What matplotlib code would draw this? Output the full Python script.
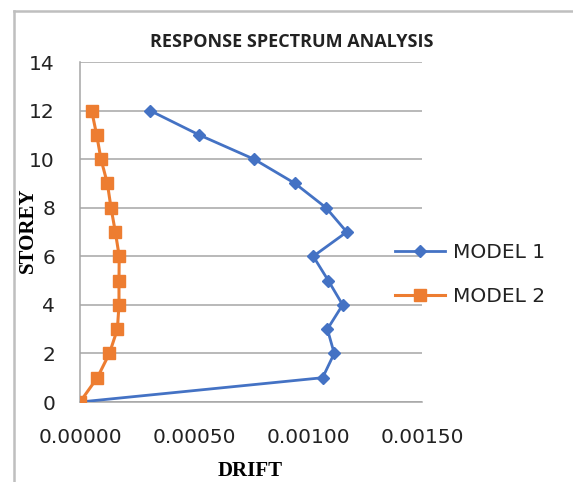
import matplotlib.pyplot as plt
from matplotlib.lines import Line2D

# storey drift from response spectrum analysis
storeys = [0, 1, 2, 3, 4, 5, 6, 7, 8, 9, 10, 11, 12]
drift_model1 = [0.0, 0.001064, 0.001115, 0.001085, 0.001152, 0.001089, 0.001023,
                0.00117, 0.001079, 0.000943, 0.000763, 0.000522, 0.000307]
drift_model2 = [0.0, 0.000076, 0.000129, 0.000164, 0.000171, 0.000171, 0.000172,
                0.000155, 0.000136, 0.00012, 0.000092, 0.000073, 0.000051]
x_ticks = [0.0, 0.0005, 0.0010, 0.0015]
y_ticks = [0, 2, 4, 6, 8, 10, 12, 14]

BLUE = "#4472C4"
ORANGE = "#ED7D31"
GRID = "#A6A6A6"

fig = plt.figure(figsize=(5.73, 4.82), dpi=100)
ax = fig.add_axes([80 / 573, 1 - 402 / 482, 342 / 573, 340 / 482])

ax.plot(drift_model1, storeys, color=BLUE, lw=2.0, marker="D", ms=6.5,
        label="MODEL 1", zorder=3)
ax.plot(drift_model2, storeys, color=ORANGE, lw=2.2, marker="s", ms=9,
        label="MODEL 2", zorder=3)

ax.set_xlim(0, 0.0015)
ax.set_ylim(0, 14)
ax.set_xticks(x_ticks)
ax.set_yticks(y_ticks)
ax.set_xticklabels([f"{v:.5f}" for v in x_ticks])
ax.yaxis.grid(True, color=GRID, lw=1.1)
ax.set_axisbelow(True)
for side in ["top", "right"]:
    ax.spines[side].set_visible(False)
ax.spines["left"].set_color(GRID)
ax.spines["bottom"].set_color(GRID)
ax.spines["left"].set_linewidth(1.1)
ax.spines["bottom"].set_linewidth(1.1)
ax.tick_params(length=0, labelsize=14.5, labelcolor="#222222")
ax.tick_params(axis="y", pad=18)
ax.tick_params(axis="x", pad=19)

fig.text(0.51, 0.913, "RESPONSE SPECTRUM ANALYSIS", ha="center", va="center",
         fontsize=13, family="Open Sans", fontweight="bold", color="#222222")
fig.text(250 / 573, 1 - 471 / 482, "DRIFT", ha="center", va="center",
         fontsize=15, family="Liberation Serif", fontweight="bold")
fig.text(28 / 573, 1 - 230 / 482, "STOREY", ha="center", va="center", rotation=90,
         fontsize=15, family="Liberation Serif", fontweight="bold")

fig.legend(loc="upper left", bbox_to_anchor=(395 / 573, 1 - 243 / 482),
           frameon=False, fontsize=14.5, handlelength=2.5, handletextpad=0.4,
           labelspacing=1.25, borderpad=0, borderaxespad=0, labelcolor="#222222")

# chart frame
fig.add_artist(Line2D([13.5 / 573, 13.5 / 573], [0, 1 - 11 / 482],
                      transform=fig.transFigure, color="#BFBFBF", lw=1.8))
fig.add_artist(Line2D([13.5 / 573, 1], [1 - 11 / 482, 1 - 11 / 482],
                      transform=fig.transFigure, color="#BFBFBF", lw=1.8))

fig.savefig("out.png", dpi=100)
